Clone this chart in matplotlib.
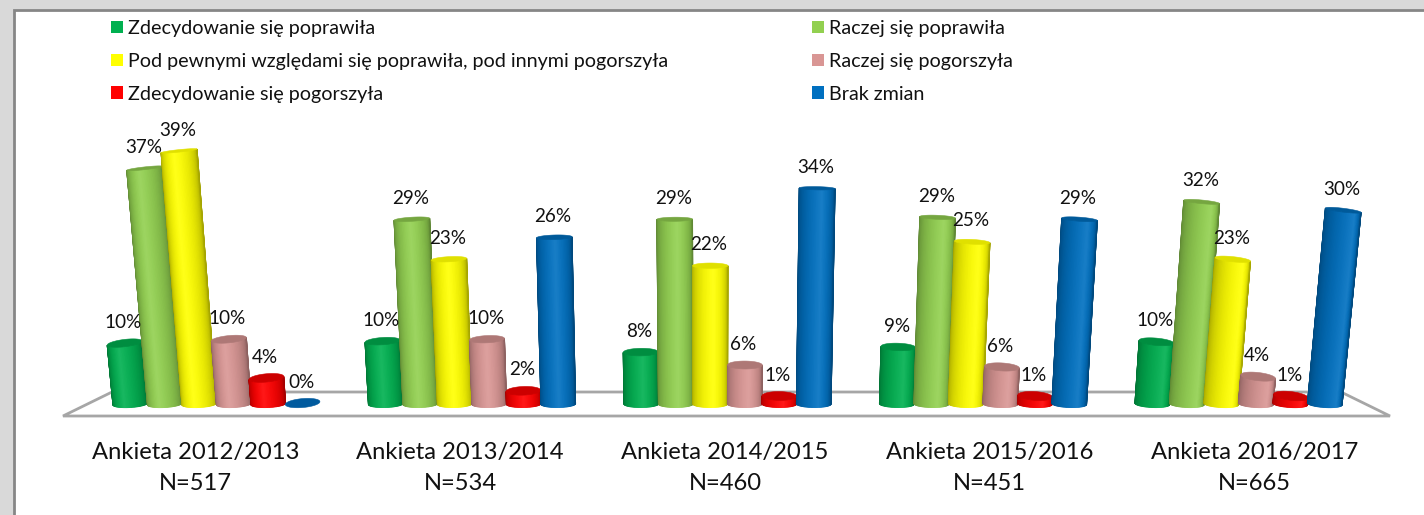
import matplotlib
matplotlib.use('Agg')
import matplotlib.pyplot as plt
from matplotlib.colors import LinearSegmentedColormap, to_rgb
from matplotlib.patches import Patch, Polygon, Rectangle
import numpy as np

surveys = ['Ankieta 2012/2013', 'Ankieta 2013/2014', 'Ankieta 2014/2015', 'Ankieta 2015/2016', 'Ankieta 2016/2017']
sample_sizes = [517, 534, 460, 451, 665]
answers = ['Zdecydowanie się poprawiła', 'Raczej się poprawiła',
           'Pod pewnymi względami się poprawiła, pod innymi pogorszyła', 'Raczej się pogorszyła',
           'Zdecydowanie się pogorszyła', 'Brak zmian']

# one list per answer, one value per survey
strongly_better = [9.6, 9.9, 8.2, 9.0, 9.8]
rather_better = [36.7, 28.8, 28.8, 29.1, 31.5]
mixed = [39.4, 22.6, 21.6, 25.3, 22.6]
rather_worse = [10.2, 10.2, 6.2, 5.9, 4.4]
strongly_worse = [4.2, 2.2, 1.4, 1.4, 1.4]
no_change = [0.3, 26.0, 33.6, 28.8, 30.2]
series = [strongly_better, rather_better, mixed, rather_worse, strongly_worse, no_change]

colors = ['#00B050', '#92D050', '#FFFF00', '#D99694', '#FF0000', '#0070C0']
border_color = '#868686'
floor_color = '#A6A6A6'
background_color = '#D9D9D9'

W, H = 1424, 515
plt.rcParams['font.family'] = 'Lato'

# pixel layout of the chart
px_per_group = 255.5
px_per_pct = 6.45
group0_px = 216.5
base_px = 405
floor_front_px = 416
floor_back_px = 392
left_px, right_px = 63, 1390
top_px = 10
vanish_px = 712

step = 34.5 / px_per_group
half_w = 17.3 / px_per_group
vanish = (vanish_px - group0_px) / px_per_group
lean = 0.001  # how far the tops spread out per percent


def shade(color, pos, highlight):
    # cylinder look: dark edges, bright stripe at highlight
    rgb = np.array(to_rgb(color))
    d = np.where(pos < highlight, (highlight - pos) / highlight, (pos - highlight) / (1 - highlight))
    factor = 1 - 0.36 * d[..., None] ** 1.6
    bright = rgb + (1 - rgb) * 0.10 * (1 - d[..., None]) ** 3
    return np.clip(bright * factor, 0, 1)


def draw_bar(ax, x, v, color, z):
    t = np.linspace(0, 1, 41)
    angle = t * np.pi
    spread = 1 + lean * v
    x_top = vanish + (x - vanish) * spread
    w_top = half_w * spread
    slope = -(x - vanish) * px_per_group * 0.0002 * px_per_group / px_per_pct
    cap_h = max(9 - 0.17 * v, 2.5) / 2 / px_per_pct
    bot_h = 3.5 / px_per_pct

    xb = x - half_w * np.cos(angle)
    xt = x_top - w_top * np.cos(angle)
    yb = -bot_h * np.sin(angle) + slope * 0.5 * (xb - x) + bot_h * 0.3
    yt = v - cap_h * np.sin(angle) + slope * (xt - x_top)

    highlight = 0.42 + 0.28 * (x / (2 * vanish))
    if v > 0.5:
        cmap = LinearSegmentedColormap.from_list('bar', shade(color, t, highlight))
        mesh = ax.pcolormesh(np.vstack([xb, xt]), np.vstack([yb, yt]), np.vstack([t, t]),
                             shading='gouraud', cmap=cmap, vmin=0, vmax=1, zorder=z)
        mesh.set_clip_on(False)
    # top cap
    a = np.linspace(0, 2 * np.pi, 60)
    cx = x_top + w_top * np.cos(a)
    cy = v + cap_h * np.sin(a) + slope * (cx - x_top)
    cap = np.array(to_rgb(color)) * 0.8
    if v <= 0.5:
        cap = np.array(to_rgb('#005A9E'))
    elif color == '#FFFF00':
        cap = np.array(to_rgb('#E0E000'))
    ax.add_patch(Polygon(np.column_stack([cx, cy]), closed=True, facecolor=cap, edgecolor=cap, lw=0.4,
                         zorder=z + 0.1, clip_on=False))


fig = plt.figure(figsize=(W / 100, H / 100), dpi=100)
fig.patch.set_facecolor(background_color)

# white chart area with the grey frame on top and left
fig.add_artist(Rectangle((13.5 / W, -0.02), 1, 1.02 - 10 / H, transform=fig.transFigure,
                         facecolor='white', edgecolor=border_color, lw=2, zorder=-1))

ax = fig.add_axes([left_px / W, 1 - floor_front_px / H, (right_px - left_px) / W, (floor_front_px - top_px) / H])
ax.patch.set_alpha(0)
ax.set_xlim((left_px - group0_px) / px_per_group, (right_px - group0_px) / px_per_group)
ax.set_ylim((base_px - floor_front_px) / px_per_pct, (base_px - top_px) / px_per_pct)
for name, spine in ax.spines.items():
    spine.set_visible(False)

# floor of the 3D chart
x0, x1 = ax.get_xlim()
y0 = ax.get_ylim()[0]
y_back = (base_px - floor_back_px) / px_per_pct
inset = 49 / px_per_group
ax.add_patch(Polygon([(x0, y0), (x1, y0), (x1 - inset, y_back), (x0 + inset, y_back)], closed=True,
                     facecolor='white', edgecolor=floor_color, lw=2, zorder=1, clip_on=False))

# bars and their labels
for g in range(len(surveys)):
    for s, values in enumerate(series):
        v = values[g]
        x = g + (s - 2.5) * step
        draw_bar(ax, x, v, colors[s], 2 + s + g * 10)
for g in range(len(surveys)):
    for s, values in enumerate(series):
        v = values[g]
        x = g + (s - 2.5) * step
        x_top = vanish + (x - vanish) * (1 + lean * v)
        ax.annotate(f'{round(v)}%', (x_top, v), xytext=(-1, 15), textcoords='offset points',
                    ha='center', va='center', fontsize=13.6, color='#111111', zorder=100,
                    annotation_clip=False)

# category labels sit on the wider front edge of the floor
tick_pos = [(725 - group0_px) / px_per_group + (i - 2) * 264.75 / px_per_group for i in range(len(surveys))]
ax.set_xticks(tick_pos)
ax.set_xticklabels([f'{name}\nN={n}' for name, n in zip(surveys, sample_sizes)], fontsize=17.1, color='#111111',
                   linespacing=1.6)
ax.tick_params(axis='x', length=0, pad=18.5)
ax.set_yticks([])

# legend, filled column by column
order = [0, 2, 4, 1, 3, 5]
handles = [Patch(facecolor=colors[i], edgecolor='none', label=answers[i]) for i in order]
fig.legend(handles=handles, ncol=2, frameon=False, loc='upper left',
           bbox_to_anchor=(111 / W, 1 - 20 / H), fontsize=14.2, labelcolor='#111111',
           borderaxespad=0, borderpad=0,
           handlelength=0.61, handleheight=0.61, handletextpad=0.25, columnspacing=7.3, labelspacing=0.8)

fig.savefig('out.png', dpi=100, facecolor=fig.get_facecolor())
